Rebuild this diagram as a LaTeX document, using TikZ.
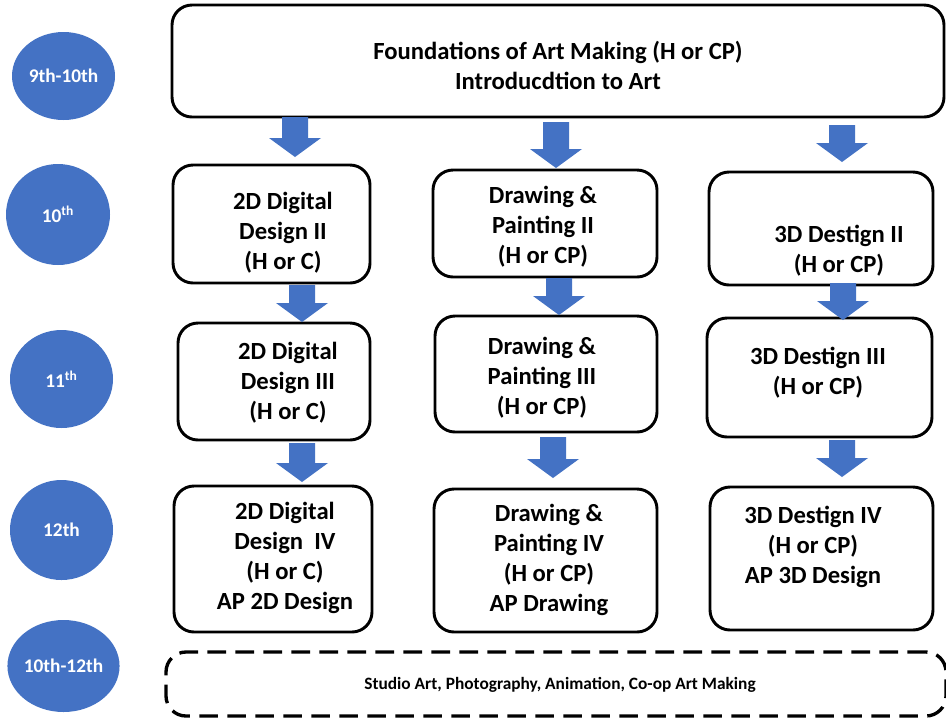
\documentclass[tikz,border=0pt]{standalone}
\usepackage{fontspec}
\setmainfont{Carlito}
\usetikzlibrary{shapes.geometric}
\definecolor{gblue}{HTML}{4472C4}
\tikzset{
  box/.style={draw=black, line width=2.2pt, rounded corners=15pt, fill=white, inner sep=0pt},
  dbox/.style={draw=black, line width=2.5pt, rounded corners=15pt, dash pattern=on 14pt off 7pt, inner sep=0pt},
  txt/.style={font=\bfseries\fontsize{18.5}{22.5}\selectfont, align=center, inner sep=0pt},
  smalltxt/.style={font=\bfseries\fontsize{13}{16}\selectfont, align=center, inner sep=0pt},
  grade/.style={ellipse, fill=gblue, text=white, font=\bfseries\fontsize{14.5}{16}\selectfont, inner sep=0pt},
  sz/.style 2 args={minimum width=#1*0.75pt, minimum height=#2*0.75pt},
  blockarrow/.style={fill=gblue},
}
\newcommand\barrow[3]{\fill[blockarrow] (#1-13,#2) -- (#1+13,#2) -- (#1+13,#3-19) -- (#1+26,#3-19) -- (#1,#3) -- (#1-26,#3-19) -- (#1-13,#3-19) -- cycle;}
\begin{document}
\begin{tikzpicture}[x=0.75pt, y=-0.75pt]
\useasboundingbox[fill=white] (0,0) rectangle (946,719);

% grade ellipses
\node[grade, sz={103}{88}] (g1) at (63.5,76) {9th-10th};
\node[grade, sz={104}{101}] (g2) at (58,214.5) {10\textsuperscript{th}};
\node[grade, sz={103}{98}] (g3) at (61.5,379) {11\textsuperscript{th}};
\node[grade, sz={103}{100}] (g4) at (61.5,530) {12th};
\node[grade, sz={103}{92}] (g5) at (63.5,666) {10th-12th};

% boxes
\node[box, sz={772}{112}] (top) at (558,61) {};
\node[txt] (topt) at (558,65) {Foundations of Art Making (H or CP)\\Introducdtion to Art};

\node[box, sz={197}{118}] (a2) at (271.5,224) {};
\node[txt] (a2t) at (283,233) {2D Digital\\Design II\\(H or C)};
\node[box, sz={224}{107}] (b2) at (545,223.5) {};
\node[txt] (b2t) at (543,227) {Drawing \&\\Painting II\\(H or CP)};
\node[box, sz={224}{113}] (c2) at (821,228.5) {};
\node[txt] (c2t) at (839,251) {3D Destign II\\(H or CP)};

\node[box, sz={192}{117}] (a3) at (274,381.5) {};
\node[txt] (a3t) at (288,383) {2D Digital\\Design III\\(H or C)};
\node[box, sz={222}{116}] (b3) at (546,374) {};
\node[txt] (b3t) at (542,378) {Drawing \&\\Painting III\\(H or CP)};
\node[box, sz={225}{119}] (c3) at (819.5,377.5) {};
\node[txt] (c3t) at (818,373) {3D Destign III\\(H or CP)};

\node[box, sz={198}{146}] (a4) at (273,559) {};
\node[txt] (a4t) at (285,558) {2D Digital\\Design~~IV\\(H or C)\\AP 2D Design};
\node[box, sz={223}{143}] (b4) at (545.5,560.5) {};
\node[txt] (b4t) at (549,560) {Drawing \&\\Painting IV\\(H or CP)\\AP Drawing};
\node[box, sz={223}{143}] (c4) at (821.5,558.5) {};
\node[txt] (c4t) at (813,547) {3D Destign IV\\(H or CP)\\AP 3D Design};

\node[dbox, sz={780}{64}] (st) at (556,684) {};
\node[smalltxt] (stt) at (560,685) {Studio Art, Photography, Animation, Co-op Art Making};

% block arrows
\barrow{295}{117}{157}
\barrow{556}{122}{168}
\barrow{842}{125}{162}
\barrow{302}{285}{322}
\barrow{559}{278}{315}
\barrow{843}{283}{320}
\barrow{302}{443}{482}
\barrow{553}{437}{478}
\barrow{842}{440}{477}
\end{tikzpicture}
\end{document}
